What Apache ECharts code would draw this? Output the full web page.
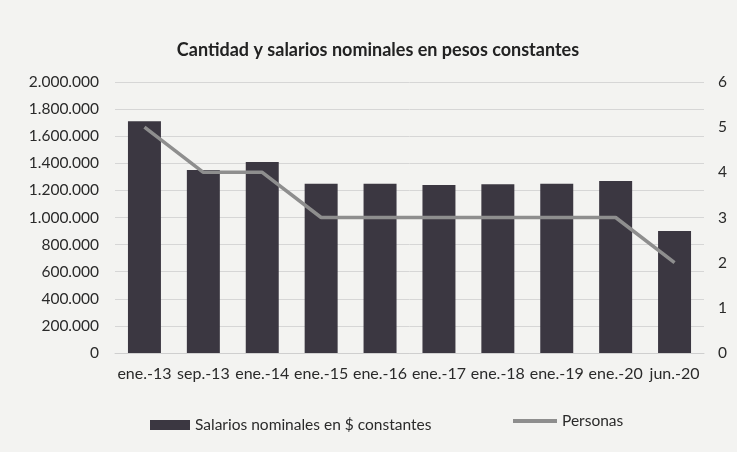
<!DOCTYPE html>
<html>
<head>
<meta charset="utf-8">
<script src="https://cdn.jsdelivr.net/npm/echarts@6/dist/echarts.min.js"></script>
<style>
html,body{margin:0;padding:0;background:#f3f3f1;}
#chart{width:737px;height:452px;}
</style>
</head>
<body>
<div id="chart"></div>
<script>
const categories = ['ene.-13','sep.-13','ene.-14','ene.-15','ene.-16','ene.-17','ene.-18','ene.-19','ene.-20','jun.-20'];
const salarios = [1710000, 1350000, 1410000, 1250000, 1250000, 1240000, 1245000, 1250000, 1270000, 900000];
const personas = [5, 4, 4, 3, 3, 3, 3, 3, 3, 2];
const titleText = 'Cantidad y salarios nominales en pesos constantes';
const serieSalarios = 'Salarios nominales en $ constantes';
const seriePersonas = 'Personas';

const fontFam = 'Lato, "Open Sans", "Liberation Sans", sans-serif';
const chart = echarts.init(document.getElementById('chart'), null, {renderer:'canvas'});
chart.setOption({
  backgroundColor: '#f3f3f1',
  textStyle: {fontFamily: fontFam},
  title: {
    text: titleText, left: 373, textAlign: 'center', top: 36,
    textStyle: {fontSize: 18, fontWeight: 'bold', color: '#222', fontFamily: fontFam}
  },
  legend: [{
    left: 145, top: 412, itemWidth: 40, itemHeight: 10,
    textStyle: {fontSize: 15.5, color: '#2a2a2a', fontFamily: fontFam},
    data: [{name: serieSalarios, icon: 'rect'}]
  },{
    left: 508, top: 408, itemWidth: 44, itemHeight: 4, itemGap: 4,
    textStyle: {fontSize: 15.5, color: '#2a2a2a', fontFamily: fontFam},
    data: [{name: seriePersonas, icon: 'rect'}]
  }],
  grid: {left: 115, right: 33, top: 82, bottom: 99},
  xAxis: {
    type: 'category', data: categories,
    axisLine: {lineStyle: {color: '#cfcfcf'}},
    axisTick: {show: false},
    axisLabel: {interval: 0, fontSize: 16, color: '#2a2a2a', margin: 13, fontFamily: fontFam}
  },
  yAxis: [{
    type: 'value', min: 0, max: 2000000, interval: 200000,
    axisLine: {show: false}, axisTick: {show: false},
    splitLine: {lineStyle: {color: '#d6d6d6'}},
    axisLabel: {fontSize: 15.5, color: '#2a2a2a', margin: 16, fontFamily: fontFam,
      formatter: v => v.toString().replace(/\B(?=(\d{3})+(?!\d))/g, '.')}
  },{
    type: 'value', min: 0, max: 6, interval: 1, position: 'right',
    axisLine: {show: false}, axisTick: {show: false}, splitLine: {show: false},
    axisLabel: {fontSize: 15.5, color: '#2a2a2a', margin: 14, fontFamily: fontFam}
  }],
  series: [{
    name: serieSalarios, type: 'bar', data: salarios, barCategoryGap: '44%',
    itemStyle: {color: '#3b3741'}
  },{
    name: seriePersonas, type: 'line', yAxisIndex: 1, data: personas,
    symbol: 'none', lineStyle: {color: '#8e8e8e', width: 3.5}, itemStyle: {color: '#8e8e8e'}
  }]
});
</script>
</body>
</html>
